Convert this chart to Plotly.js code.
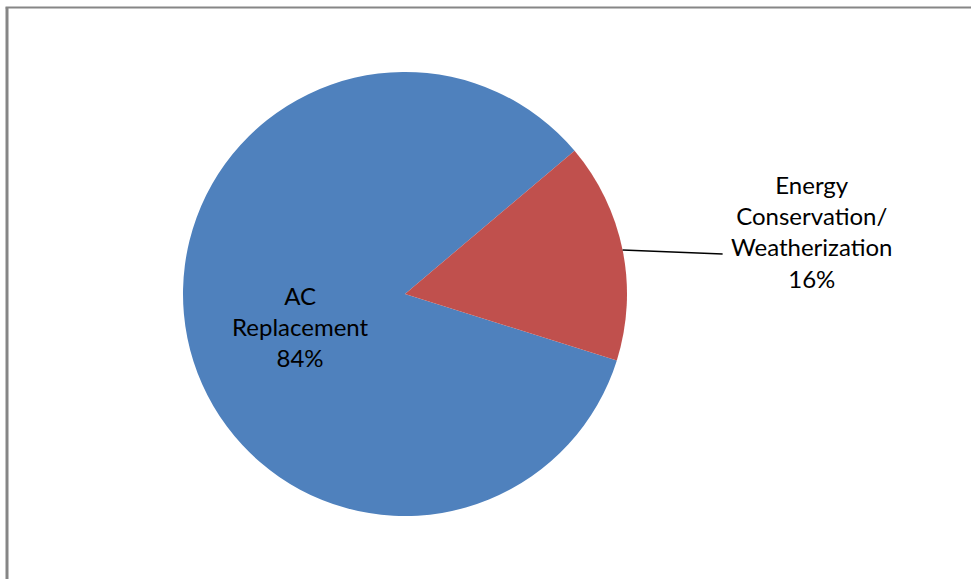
<!DOCTYPE html>
<html>
<head>
<meta charset="utf-8">
<script src="https://cdn.plot.ly/plotly-3.0.1.min.js"></script>
<style>
html,body{margin:0;padding:0;background:#fff;}
#chart{width:971px;height:579px;}
</style>
</head>
<body>
<div id="chart"></div>
<script>
// ---- data ----
const labels = ["AC Replacement", "Energy Conservation/Weatherization"];
const labelText = ["AC<br>Replacement", "Energy<br>Conservation/<br>Weatherization"];
const values = [84, 16];
const colors = ["#4F81BD", "#C0504D"];

// ---- layout constants (style) ----
const W = 971, H = 579;
const cx = 405, cy = 294, R = 222;
const rotation = 107.4; // degrees clockwise from 12 o'clock where first slice starts

const total = values.reduce((a, b) => a + b, 0);
const pct = values.map(v => Math.round(v / total * 100) + "%");

// mid angles (clockwise from top) computed from data
const mids = [];
let acc = rotation;
values.forEach(v => {
  const span = v / total * 360;
  mids.push(acc + span / 2);
  acc += span;
});
const toXY = (angDeg, frac) => {
  const a = angDeg * Math.PI / 180;
  return [cx + frac * R * Math.sin(a), cy - frac * R * Math.cos(a)];
};
const px2x = px => px / W;
const py2y = py => 1 - py / H;

const font = {family: "Lato, 'Open Sans', sans-serif", size: 24, color: "#000"};

// inside label for AC
const acMid = toXY(mids[0], 0.5);
const acPos = [acMid[0] + 4, acMid[1] + 11];
// outside label for Energy with leader line
const edge = toXY(mids[1], 1.0);
const lineEnd = [edge[0] + 100, edge[1] + 4];
const textCenter = [edge[0] + 189, edge[1] - 19];

const trace = {
  type: "pie",
  labels: labels,
  values: values,
  marker: {colors: colors, line: {width: 0}},
  sort: false,
  direction: "clockwise",
  rotation: rotation,
  textinfo: "none",
  hoverinfo: "label+percent",
  domain: {x: [(cx - R) / W, (cx + R) / W], y: [1 - (cy + R) / H, 1 - (cy - R) / H]},
  showlegend: false
};

const layout = {
  width: W, height: H,
  margin: {l: 0, r: 0, t: 0, b: 0},
  paper_bgcolor: "#fff",
  showlegend: false,
  annotations: [
    {x: px2x(acPos[0]), y: py2y(acPos[1]), xref: "paper", yref: "paper",
     text: labelText[0] + "<br>" + pct[0], showarrow: false, font: font,
     xanchor: "center", yanchor: "middle", align: "center"},
    {x: px2x(textCenter[0]), y: py2y(textCenter[1]), xref: "paper", yref: "paper",
     text: labelText[1] + "<br>" + pct[1], showarrow: false, font: font,
     xanchor: "center", yanchor: "middle", align: "center"}
  ],
  shapes: [
    {type: "line", xref: "paper", yref: "paper",
     x0: px2x(edge[0]), y0: py2y(edge[1]), x1: px2x(lineEnd[0]), y1: py2y(lineEnd[1]),
     line: {color: "#000", width: 1.5}},
    {type: "line", xref: "paper", yref: "paper", x0: px2x(7), y0: py2y(H + 2), x1: px2x(7), y1: py2y(7.5),
     line: {color: "#868686", width: 3}},
    {type: "line", xref: "paper", yref: "paper", x0: px2x(5.5), y0: py2y(7.5), x1: px2x(W + 2), y1: py2y(7.5),
     line: {color: "#868686", width: 2}}
  ]
};

Plotly.newPlot("chart", [trace], layout, {displayModeBar: false, staticPlot: true});
</script>
</body>
</html>
